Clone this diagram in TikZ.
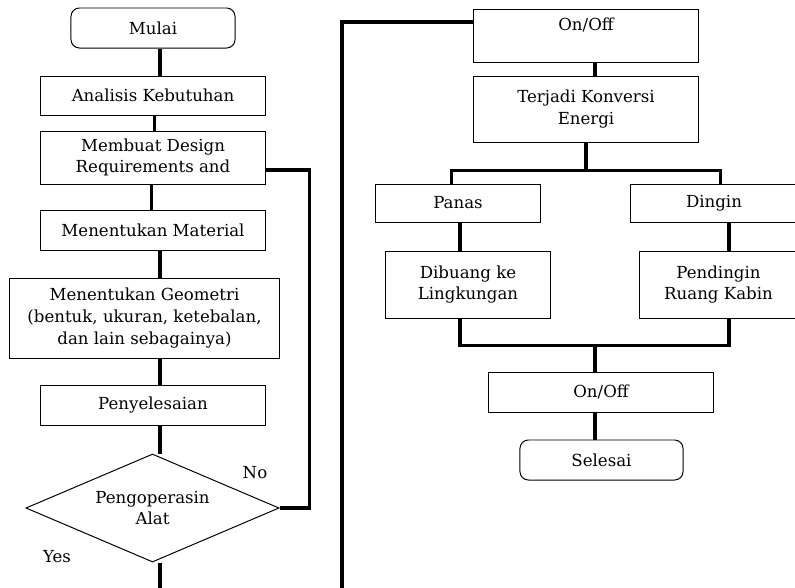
\documentclass[tikz,border=0pt]{standalone}
\usepackage{fontspec}
\setmainfont{DejaVu Serif}
\usepackage{tikz}
\usetikzlibrary{shapes.geometric,calc}
\tikzset{
  termbox/.style={draw, line width=0.7pt, rounded corners=6pt, align=center,
                  minimum width=4.1cm, minimum height=1cm, inner sep=2pt},
  procbox/.style={draw, line width=0.7pt, align=center,
                  minimum width=5.6cm, minimum height=1cm, inner sep=2pt},
  decbox/.style={draw, line width=0.7pt, diamond, aspect=2.34, align=center,
                 minimum width=6.33cm, minimum height=2.7cm, inner sep=1pt},
  flow/.style={line width=2.3pt},
  lbl/.style={inner sep=1pt},
}
\begin{document}
\begin{tikzpicture}[x=0.025cm, y=-0.025cm, font=\fontsize{11.8}{15.4}\selectfont]
    \useasboundingbox (0,0) rectangle (795,587);
    % left column
    \node[termbox] (mulai) at (153,28) {Mulai};
    \node[procbox, minimum height=0.975cm] (analisis) at (153,95.5) {Analisis Kebutuhan};
    \node[procbox, minimum height=1.325cm] (design) at (153,157.5) {Membuat Design\\Requirements and};
    \node[procbox] (material) at (153,230) {Menentukan Material};
    \node[procbox, minimum width=6.725cm, minimum height=2cm] (geometri) at (144.5,318)
        {Menentukan Geometri\\(bentuk, ukuran, ketebalan,\\dan lain sebagainya)};
    \node[procbox] (penyelesaian) at (153,405) {Penyelesaian};
    \node[decbox] (alat) at (152.5,508) {Pengoperasin\\Alat};
    \node[lbl] (no) at (255,473) {No};
    \node[lbl] (yes) at (57,557) {Yes};
    % right column
    \node[procbox, minimum height=1.325cm] (onoff1) at (586,35.5) {On/Off\\\mbox{}};
    \node[procbox, minimum height=1.65cm] (konversi) at (586,109) {Terjadi Konversi\\Energi};
    \node[procbox, minimum width=4.1cm, minimum height=0.95cm] (panas) at (458,203) {Panas};
    \node[procbox, minimum width=4.15cm, minimum height=0.95cm] (dingin) at (714,203) {Dingin};
    \node[procbox, minimum width=4.1cm, minimum height=1.675cm] (dibuang) at (468,284.5) {Dibuang ke\\Lingkungan};
    \node[procbox, minimum width=3.925cm, minimum height=1.675cm] (pendingin) at (718.5,284.5) {Pendingin\\Ruang Kabin};
    \node[procbox] (onoff2) at (601,392) {On/Off};
    \node[termbox, minimum width=4.075cm] (selesai) at (601.5,460) {Selesai};
    % connector columns and free ends
    \coordinate (colL) at (160,0);
    \coordinate (colR) at (595,0);
    \coordinate (colP) at (460,0);
    \coordinate (colD) at (729,0);
    \coordinate (yesend) at (160,600);
    \coordinate (loopend) at (342,600);
    % connectors left
    \draw[flow] (mulai.south -| colL) -- (analisis.north -| colL);
    \draw[flow] ([xshift=0.03cm]analisis.south) -- ([xshift=0.03cm]design.north);
    \draw[flow] ([xshift=-0.03cm]design.south) -- ([xshift=-0.03cm]material.north);
    \draw[flow] (material.south -| colL) -- (geometri.north -| colL);
    \draw[flow] (geometri.south -| colL) -- (penyelesaian.north -| colL);
    \draw[flow] (penyelesaian.south -| colL) -- (alat.north -| colL);
    \draw[flow] (alat.south -| colL) -- (yesend);
    \draw[flow] (alat.east) -- ++(30,0) |- ([yshift=-0.31cm]design.east);
    % connectors right
    \draw[flow] (loopend) |- ([yshift=0.34cm]onoff1.west);
    \draw[flow] (onoff1.south -| colR) -- (konversi.north -| colR);
    \draw[flow] (konversi.south) -- ++(0,28) coordinate (split);
    \draw[flow] ([xshift=-0.16cm]panas.north) |- (split) -| ([xshift=0.17cm]dingin.north);
    \draw[flow] (panas.south -| colP) -- (dibuang.north -| colP);
    \draw[flow] (dingin.south -| colD) -- (pendingin.north -| colD);
    \draw[flow] (dibuang.south -| colP) -- ++(0,27) -| (pendingin.south -| colD);
    \draw[flow] (onoff2.north -| colR) -- ++(0,-27);
    \draw[flow] (onoff2.south -| colR) -- (selesai.north -| colR);
\end{tikzpicture}
\end{document}
